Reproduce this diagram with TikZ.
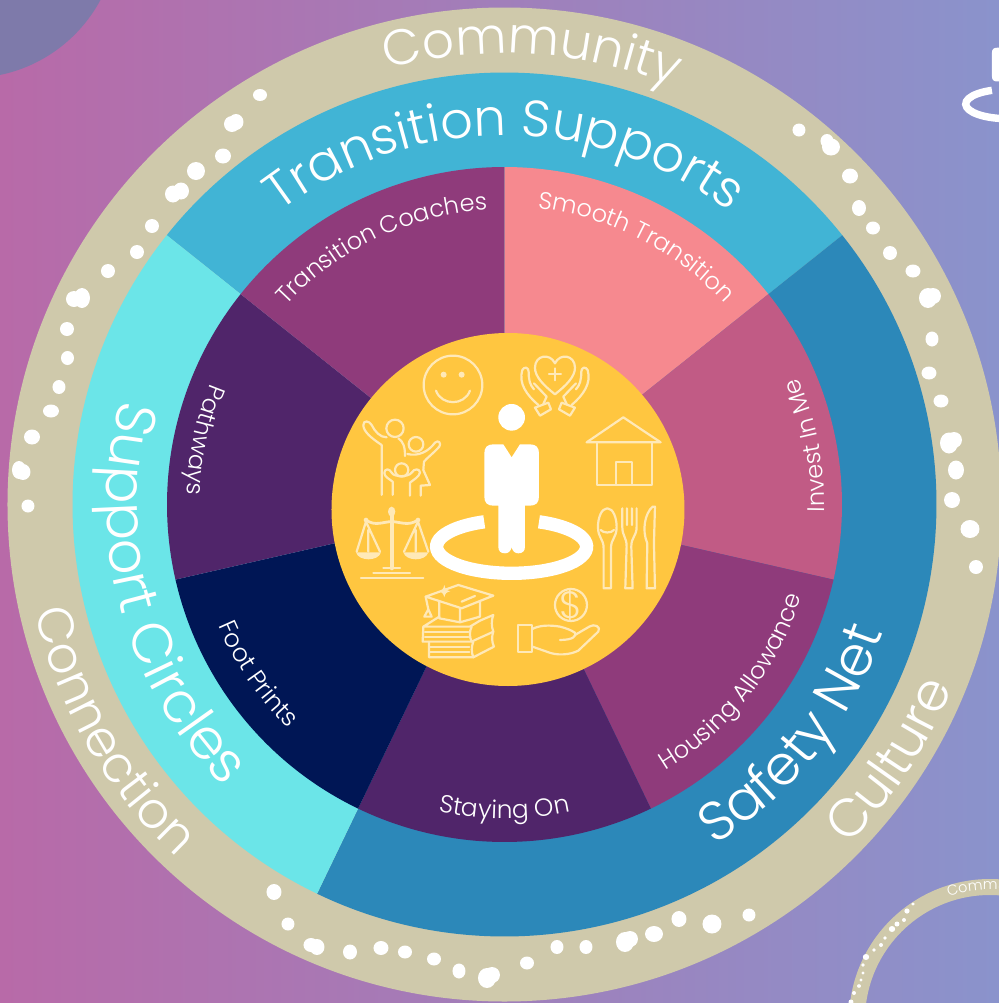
\documentclass[tikz,border=0pt]{standalone}
\usepackage{fontspec}
\setmainfont{Poppins Light}
\usetikzlibrary{decorations.text}
\definecolor{bgL}{HTML}{B86AA8}
\definecolor{bgR}{HTML}{8A93CC}
\definecolor{ringc}{HTML}{CFC9AB}
\definecolor{tsc}{HTML}{41B4D5}
\definecolor{snc}{HTML}{2C88B9}
\definecolor{scc}{HTML}{6BE5E8}
\definecolor{smc}{HTML}{F6898F}
\definecolor{inv}{HTML}{C15B85}
\definecolor{mag}{HTML}{8F3B7B}
\definecolor{pur}{HTML}{50256A}
\definecolor{nav}{HTML}{001655}
\definecolor{yel}{HTML}{FFC640}
\definecolor{pale}{HTML}{FFE9B8}
\definecolor{cornerc}{HTML}{7E7AAA}
\newcommand\fcom{\fontsize{25}{30}\selectfont}
\newcommand\fts{\fontsize{25.5}{30}\selectfont}
\newcommand\fsup{\fontsize{28}{30}\selectfont}
\newcommand\fsaf{\fontsize{27.5}{30}\selectfont}
\newcommand\fcul{\fontsize{26.5}{30}\selectfont}
\newcommand\fsma{\fontsize{12}{14}\selectfont}
\newcommand\fsmb{\fontsize{12.4}{14}\selectfont}
\newcommand\minif{\fontsize{7.2}{8}\selectfont}
\tikzset{
  pxs/.style={shift={(-504.5,504.5)},yscale=-1},
  icon/.style={draw=pale,line width=1.1pt,line cap=round,line join=round},
  dot/.style={fill=white},
}
% wedge: start, end, radius, colour
\newcommand\wedgeseg[4]{\fill[#4] (0,0) -- (#1:#3) arc[start angle=#1,end angle=#2,radius=#3] -- cycle;}
% curved label: start angle, end angle, radius, font, text
\newcommand\arclabel[5]{\path[decorate,decoration={text along path,text color=white,text align=center,text format delimiters={[}{]},text={[#4]#5}}] (#1:#3) arc[start angle=#1,end angle=#2,radius=#3];}
% dot in pixel coordinates
\newcommand\blob[4]{\fill[dot] (#1,#2) ellipse[x radius=#3,y radius=#4];}
% person icon, drawn in 3x-zoom coordinates of the central circle
\newcommand\personicon[2]{%
  \fill[white,#1] (545,262) circle[radius=40];
  \fill[white,#1] (490,343) -- (520,343) -- (545,382) -- (570,343) -- (600,343)
    .. controls (618,343) and (627,352) .. (627,370) -- (627,500)
    .. controls (627,518) and (618,527) .. (600,527) -- (585,527) -- (585,650)
    .. controls (585,664) and (577,670) .. (565,670) .. controls (555,670) and (548,664) .. (545,652)
    .. controls (542,664) and (535,670) .. (525,670) .. controls (513,670) and (505,664) .. (505,650)
    -- (505,527) -- (490,527) .. controls (472,527) and (463,518) .. (463,500) -- (463,370)
    .. controls (463,352) and (472,343) .. (490,343) -- cycle;
  \draw[white,line width=#2,#1] (627,575.5) arc[start angle=-68.6,end angle=248.6,x radius=225,y radius=80];
}
\begin{document}
\begin{tikzpicture}[x=.5pt,y=.5pt]
\useasboundingbox (-504.5,-498.5) rectangle (494.5,504.5);
\clip (-504.5,-498.5) rectangle (494.5,504.5);
\shade[left color=bgL,right color=bgR] (-504.5,-498.5) rectangle (494.5,504.5);
\begin{scope}[pxs]
  \fill[cornerc] (-30,-70) circle[radius=148];
  % mini person
  \begin{scope}[shift={(1007,104)},scale=.1833,shift={(-545,-650)}]
    \personicon{}{3.7pt}
  \end{scope}
  % mini wheel
  \draw[ringc,line width=8pt] (990,1020) circle[radius=133];
  \blob{913}{904}{1.8}{1.6}\blob{907}{911}{2.6}{2.6}\blob{904}{920}{2}{2}\blob{897}{924}{2.5}{2.5}\blob{892}{929}{3.2}{3}
  \blob{885}{938}{1.8}{1.8}\blob{881}{945}{2}{2}\blob{874}{950}{1.8}{1.8}\blob{866}{957}{3.2}{3}\blob{863}{965}{1.8}{1.8}
  \blob{863}{973}{1.6}{1.6}\blob{861}{980}{1.6}{1.6}\blob{859}{986}{2}{1.8}\blob{854}{993}{2}{2}\blob{851}{1002}{2.5}{2.5}
\end{scope}
\begin{scope}[shift={(-504.5+990,504.5-1020)}]
  \arclabel{120}{60}{130}{\minif}{Community}
\end{scope}
% rings
\fill[ringc] (0,0) circle[radius=497];
\wedgeseg{141.43}{38.57}{432}{tsc}
\wedgeseg{38.57}{-115.71}{432}{snc}
\wedgeseg{-115.71}{-218.57}{432}{scc}
\wedgeseg{90}{38.57}{337.5}{smc}
\wedgeseg{38.57}{-12.86}{337.5}{inv}
\wedgeseg{-12.86}{-64.29}{337.5}{mag}
\wedgeseg{-64.29}{-115.71}{337.5}{pur}
\wedgeseg{-115.71}{-167.14}{337.5}{nav}
\wedgeseg{-167.14}{-218.57}{337.5}{pur}
\wedgeseg{141.43}{90}{337.5}{mag}
% dots
\begin{scope}[pxs]
\blob{260}{95}{7}{6}\blob{232}{124}{8}{8}\blob{236}{122}{7.5}{8}\blob{223}{156}{8}{7.5}\blob{196}{171}{9}{9}
\blob{173}{194}{8}{8.5}\blob{181}{191}{8}{8.5}\blob{152}{226}{7}{7}\blob{137}{252}{7}{7}\blob{108}{271}{7}{7}
\blob{74}{299}{8}{8}\blob{82}{298}{8}{10}\blob{67}{329}{7}{7}\blob{67.5}{358}{6.5}{7}\blob{59}{387}{6.5}{7}
\blob{51}{411}{8}{6.5}\blob{32}{437}{8}{7.5}\blob{19}{470}{7}{9}\blob{23}{472}{7.5}{8}\blob{28}{506}{6.5}{6.5}
\blob{799}{130}{6.5}{6.5}\blob{827}{141}{6.5}{7}\blob{831}{147}{9}{8.5}\blob{850}{176}{8}{7.5}\blob{859}{208}{7}{8}
\blob{873}{228}{7}{6.5}\blob{890}{253}{7}{7}\blob{913}{271}{7.5}{6.5}\blob{928}{298}{9}{10}\blob{933}{296}{8}{8}
\blob{932}{339}{6.5}{7.5}\blob{929}{373}{7.5}{6.5}\blob{941}{401}{7.5}{6.5}\blob{949}{443}{9}{10.5}\blob{954}{440}{8}{8}
\blob{956}{470}{8}{9.5}\blob{952}{500}{8}{8}\blob{970}{529}{9.5}{9}\blob{976}{567}{7}{7}
\blob{274}{892}{7.5}{8}\blob{288}{924}{6.5}{6.5}\blob{311}{945}{7.5}{7}\blob{317}{947}{7.5}{8}\blob{350}{952}{7}{7.5}
\blob{381}{948}{7.5}{7}\blob{405}{952}{7}{6.5}\blob{434}{959}{7}{6.5}\blob{459}{971}{6.5}{7.5}
\blob{487}{978}{9}{10}\blob{492}{975}{8}{8}\blob{527}{963}{7}{6.5}\blob{557}{947}{6.5}{7}\blob{586}{947}{6.5}{7}
\blob{625}{942}{9}{10}\blob{630}{939}{8}{8}\blob{654}{934}{9}{8}\blob{679}{919}{7.5}{8}\blob{712}{924}{9.5}{9.5}
\blob{749}{915}{6.5}{6.5}
\end{scope}
% labels
\arclabel{130}{43}{451}{\fcom}{Community}
\arclabel{135}{45}{369}{\fts}{Transition Supports}
\arclabel{149.5}{240.5}{398}{\fsup}{Support Circles}
\arclabel{-76}{-1}{400}{\fsaf}{Safety Net}
\arclabel{164.5}{255.5}{482}{\fcom}{Connection}
\arclabel{-68}{1}{484}{\fcul}{Culture}
\arclabel{141}{90}{295}{\fsma}{Transition Coaches}
\arclabel{89}{37}{298}{\fsma}{Smooth Transition}
\arclabel{-15}{37}{320}{\fsma}{Invest In Me}
\arclabel{-64}{-12}{311}{\fsma}{Housing Allowance}
\arclabel{-116}{-64}{314}{\fsmb}{Staying On}
\arclabel{-171.5}{-119.5}{311}{\fsmb}{Foot Prints}
\arclabel{142}{194}{318}{\fsma}{Pathways}
% centre
\begin{scope}[pxs]
\fill[yel] (508,509.5) circle[radius=176.5];
\begin{scope}[shift={(330,330)},scale=.3333]
  \personicon{}{6.67pt}
  % smile
  \draw[icon] (369,165) circle[radius=88];
  \fill[pale] (341,134) circle[radius=9] (395,134) circle[radius=9];
  \draw[icon] (318,182) .. controls (335,228) and (403,228) .. (420,182);
  % heart and hands
  \draw[icon] (675,193) .. controls (640,165) and (615,140) .. (615,113) .. controls (615,75) and (660,68) .. (675,100)
     .. controls (690,68) and (735,75) .. (735,113) .. controls (735,140) and (710,165) .. (675,193) -- cycle;
  \draw[icon] (657,133) -- (693,133) (675,115) -- (675,151);
  \draw[icon] (625,225) .. controls (590,195) and (565,160) .. (577,120) .. controls (583,108) and (596,112) .. (596,125)
     .. controls (596,150) and (600,165) .. (612,178) (612,160) -- (650,200) -- (640,222);
  \draw[icon] (615,233) -- (655,218) -- (663,238) -- (630,257) -- cycle;
  \draw[icon] (725,225) .. controls (760,195) and (785,160) .. (773,120) .. controls (767,108) and (754,112) .. (754,125)
     .. controls (754,150) and (750,165) .. (738,178) (738,160) -- (700,200) -- (710,222);
  \draw[icon] (735,233) -- (695,218) -- (687,238) -- (720,257) -- cycle;
  % house
  \draw[icon] (770,337) -- (880,262) -- (992,337) -- cycle;
  \draw[icon] (800,337) -- (800,465) -- (965,465) -- (965,337);
  \draw[icon] (857,465) -- (857,397) -- (905,397) -- (905,465);
  % cutlery
  \draw[icon] (832,535) .. controls (850,535) and (860,565) .. (860,590) .. controls (860,625) and (843,625) .. (843,655)
     -- (843,775) -- (821,775) -- (821,655) .. controls (821,625) and (804,625) .. (804,590) .. controls (804,565) and (814,535) .. (832,535) -- cycle;
  \draw[icon] (812,600) .. controls (820,610) and (844,610) .. (852,600);
  \draw[icon] (877,535) -- (877,590) .. controls (877,620) and (890,620) .. (890,650) -- (886,775) -- (908,775) -- (904,650)
     .. controls (904,620) and (920,620) .. (920,590) -- (920,535) (891,535) -- (891,585) (906,535) -- (906,585);
  \draw[icon] (968,530) .. controls (945,550) and (935,600) .. (952,640) -- (950,775) -- (975,775) -- (972,640) -- (975,530) -- cycle;
  % scales
  \draw[icon,line width=2pt] (185,550) -- (185,715);
  \fill[pale] (185,545) ellipse[x radius=11,y radius=15];
  \draw[icon,line width=1.4pt] (108,570) .. controls (135,590) and (160,575) .. (185,575) .. controls (210,575) and (235,590) .. (264,570);
  \fill[pale] (108,570) circle[radius=7] (264,570) circle[radius=7];
  \draw[icon] (108,575) -- (80,665) (108,575) -- (150,665) (115,600) -- (115,665);
  \draw[icon] (264,575) -- (222,665) (264,575) -- (295,665) (257,600) -- (257,665);
  \fill[pale] (78,667) -- (153,667) .. controls (145,695) and (86,695) .. (78,667) -- cycle;
  \fill[pale] (220,667) -- (295,667) .. controls (287,695) and (228,695) .. (220,667) -- cycle;
  \draw[icon] (160,715) -- (210,715) (130,730) -- (240,730) (93,745) -- (280,745);
  % family
  \draw[icon] (195,295) circle[radius=26] (258,343) circle[radius=22] (215,420) circle[radius=20];
  \draw[icon] (155,495) -- (155,345) .. controls (125,325) and (100,305) .. (100,285) .. controls (100,270) and (118,272) .. (125,285)
     .. controls (135,305) and (150,322) .. (170,322) (205,325) .. controls (220,335) and (225,350) .. (225,378);
  \draw[icon] (232,372) .. controls (265,380) and (295,365) .. (315,338) .. controls (325,328) and (335,340) .. (328,350)
     .. controls (310,370) and (290,385) .. (282,395) -- (280,420) -- (300,465) -- (272,467) -- (272,497);
  \draw[icon] (188,495) -- (188,455) .. controls (175,445) and (163,440) .. (163,428) .. controls (165,415) and (178,415) .. (185,428)
     .. controls (192,442) and (235,442) .. (245,428) .. controls (252,415) and (270,415) .. (270,428) .. controls (268,440) and (250,450) .. (240,458) -- (240,497);
  % books and cap
  \draw[icon] (287,800) -- (385,765) -- (490,797) -- (395,835) -- cycle;
  \draw[icon] (328,815) -- (328,865) -- (390,877) -- (450,860) -- (450,815) (390,835) -- (390,877) (395,815) -- (435,798);
  \draw[icon] (287,800) -- (295,838) (283,860) -- (295,838) -- (305,860) -- cycle;
  \fill[pale] (343,765) .. controls (346,778) and (349,781) .. (361,784) .. controls (349,787) and (346,790) .. (343,802)
     .. controls (340,790) and (337,787) .. (325,784) .. controls (337,781) and (340,778) .. (343,765) -- cycle;
  \draw[icon] (328,860) -- (280,890) -- (278,935) -- (425,935) .. controls (445,925) and (470,915) .. (490,905) .. controls (484,890) and (484,870) .. (490,855) -- (450,872) -- (420,890) -- (280,890);
  \draw[icon] (425,890) .. controls (418,905) and (418,920) .. (425,935);
  \draw[icon] (285,905) -- (415,905) (285,920) -- (415,920);
  \draw[icon] (297,935) -- (297,982) -- (430,982) -- (492,950) .. controls (485,935) and (485,920) .. (490,905);
  \draw[icon] (430,935) .. controls (424,950) and (424,968) .. (430,982);
  \draw[icon] (300,950) -- (418,950) (300,965) -- (418,965);
  % coin and hand
  \draw[icon] (723,825) circle[radius=48];
  \node[text=pale,font=\fontsize{19}{21}\selectfont] (coin) at (723,825) {\$};
  \draw[icon] (565,885) rectangle (607,967);
  \draw[icon] (607,897) .. controls (630,885) and (660,885) .. (690,890) .. controls (710,895) and (722,900) .. (735,908) .. controls (740,918) and (730,930) .. (690,930);
  \draw[icon] (735,915) -- (778,890) .. controls (792,880) and (815,890) .. (805,905) -- (745,962) .. controls (720,975) and (680,978) .. (650,965) -- (607,950);
\end{scope}
\end{scope}
\end{tikzpicture}
\end{document}
